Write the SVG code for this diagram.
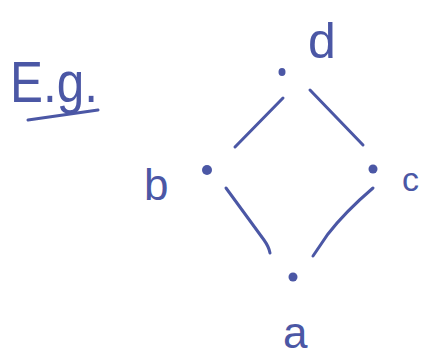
<svg xmlns="http://www.w3.org/2000/svg" width="425" height="356" viewBox="0 0 425 356">
<style>
.ink{fill:#4b57a5;}
.lbl{fill:#4b57a5;font-family:"Liberation Sans",sans-serif;}
.edge{stroke:#4b57a5;stroke-width:3;stroke-linecap:round;fill:none;}
</style>
<rect width="425" height="356" fill="#ffffff"/>
<g id="title">
<text class="lbl" x="10" y="102" font-size="58" textLength="88" lengthAdjust="spacingAndGlyphs">E.g.</text>
<path class="edge" d="M28 120 L98 110"/>
</g>
<g id="connectors">
<path class="edge" d="M226 188 L264 240 Q269 247 270 253"/>
<path class="edge" d="M373 188 Q345 212 328 234 L313 256"/>
<path class="edge" d="M283 98 L235 147"/>
<path class="edge" d="M310 90 L363 145"/>
</g>
<g id="node-d">
<ellipse class="ink" cx="282" cy="72" rx="3.5" ry="4"/>
<text class="lbl" x="308" y="58" font-size="50">d</text>
</g>
<g id="node-b">
<circle class="ink" cx="207" cy="170" r="5"/>
<text class="lbl" x="144" y="200" font-size="44">b</text>
</g>
<g id="node-c">
<circle class="ink" cx="373" cy="169" r="4.5"/>
<text class="lbl" x="402" y="191" font-size="34">c</text>
</g>
<g id="node-a">
<circle class="ink" cx="293" cy="277" r="4.5"/>
<text class="lbl" x="283" y="348" font-size="44">a</text>
</g>
</svg>
